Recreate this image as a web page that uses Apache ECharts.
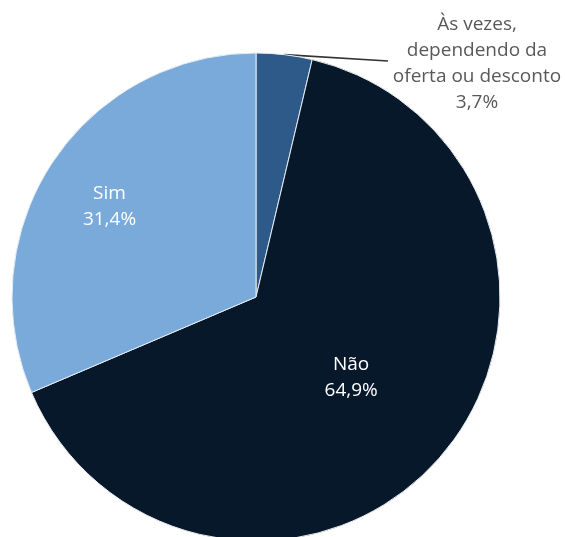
<!DOCTYPE html>
<html lang="pt-BR">
<head>
  <meta charset="UTF-8">
  <title>Pie</title>
  <style>
    * { padding: 0; margin: 0; }
    html, body { width: 100%; height: 100%; background: #fff; }
    #chart { width: 565px; height: 537px; }
  </style>
  <script src="https://cdn.jsdelivr.net/npm/echarts@6/dist/echarts.min.js"></script>
</head>
<body>
  <div id="chart"></div>
  <script>
    // data
    var names = ['Às vezes,\ndependendo da\noferta ou desconto', 'Não', 'Sim'];
    var values = [3.7, 64.9, 31.4];
    var colors = ['#2e5a8a', '#08182b', '#7aaad9'];

    var cx = 256, cy = 297, R = 244;
    // radial position of inner labels (fraction of radius)
    var labelFrac = [null, 0.51, 0.71];

    function midAngle(i) {
      var total = values.reduce(function (a, b) { return a + b; }, 0);
      var before = 0;
      for (var k = 0; k < i; k++) before += values[k];
      return (before + values[i] / 2) / total * Math.PI * 2;
    }

    var chart = echarts.init(document.getElementById('chart'));
    var option = {
      backgroundColor: '#fff',
      animation: false,
      series: [{
        type: 'pie',
        center: [cx, cy],
        radius: [0, R],
        startAngle: 90,
        clockwise: true,
        itemStyle: { borderColor: '#e6ecf2', borderWidth: 1 },
        label: {
          show: true,
          position: 'inside',
          color: '#ffffff',
          fontFamily: 'Open Sans',
          fontSize: 19,
          lineHeight: 26,
          formatter: function (p) {
            return p.name + '\n' + p.value.toFixed(1).replace('.', ',') + '%';
          }
        },
        labelLine: { show: false },
        labelLayout: function (params) {
          var i = params.dataIndex;
          if (i === 0) {
            var a = midAngle(0);
            var p0 = [cx + R * Math.sin(a), cy - R * Math.cos(a)];
            return {
              x: 477, y: 64, align: 'center', verticalAlign: 'middle',
              labelLinePoints: [p0, [388, 61], [388, 61]]
            };
          }
          var ang = midAngle(i);
          var r = R * labelFrac[i];
          return {
            x: cx + r * Math.sin(ang) - (i === 2 ? 2 : 0),
            y: cy - r * Math.cos(ang) + (i === 2 ? 5 : 0),
            align: 'center', verticalAlign: 'middle'
          };
        },
        data: names.map(function (n, i) {
          var item = { name: n, value: values[i], itemStyle: { color: colors[i] } };
          if (i === 0) {
            item.label = { position: 'outside', color: '#595959', align: 'center' };
            item.labelLine = { show: true, length: 20, length2: 60, lineStyle: { color: '#333333', width: 1.6 } };
          }
          return item;
        })
      }]
    };
    chart.setOption(option);
  </script>
</body>
</html>
